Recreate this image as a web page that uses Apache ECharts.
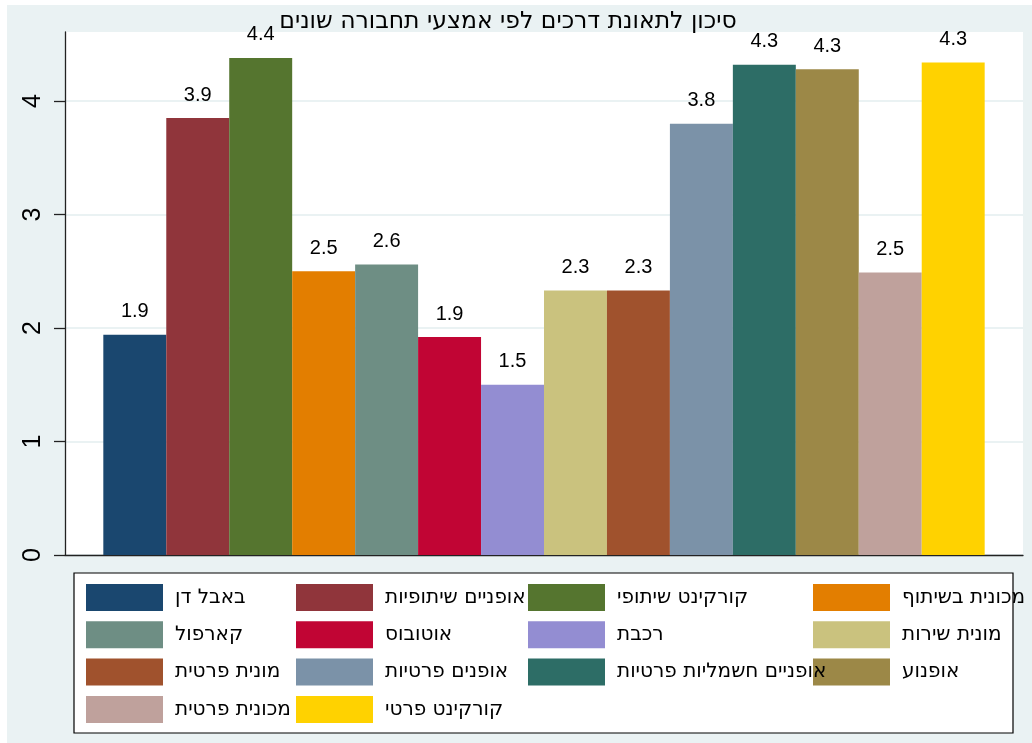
<!DOCTYPE html>
<html>
<head>
<meta charset="utf-8">
<title>סיכון לתאונת דרכים</title>
<script src="https://cdn.jsdelivr.net/npm/echarts@6/dist/echarts.min.js"></script>
<style>
  html, body { margin: 0; padding: 0; background: #ffffff; }
  #chart { width: 1032px; height: 743px; }
</style>
</head>
<body>
<div id="chart"></div>
<script>
// Transport modes, in plotting order
const modes = [
  'באבל דן', 'אופניים שיתופיות', 'קורקינט שיתופי', 'מכונית בשיתוף',
  'קארפול', 'אוטובוס', 'רכבת', 'מונית שירות',
  'מונית פרטית', 'אופנים פרטיות', 'אופניים חשמליות פרטיות', 'אופנוע',
  'מכונית פרטית', 'קורקינט פרטי'
];

// Mean perceived accident risk for each mode
const risk = [1.94, 3.85, 4.38, 2.50, 2.56, 1.92, 1.50, 2.33, 2.33, 3.80, 4.32, 4.28, 2.49, 4.34];

// Bar colours (Stata s2color palette)
const colors = [
  '#1A476F', '#90353B', '#55752F', '#E37E00', '#6E8E84', '#C10534', '#938DD2',
  '#CAC27E', '#A0522D', '#7B92A8', '#2D6D66', '#9C8847', '#BFA19C', '#FFD200'
];

// Y-axis tick values
const yTicks = [0, 1, 2, 3, 4];

const titleText = 'סיכון לתאונת דרכים לפי אמצעי תחבורה שונים';

const chart = echarts.init(document.getElementById('chart'), null, { renderer: 'canvas' });

const series = modes.map((name, i) => ({
  name: name,
  type: 'bar',
  data: [risk[i]],
  barGap: '0%',
  barCategoryGap: '8%',
  itemStyle: { color: colors[i] },
  label: {
    show: true,
    position: 'top',
    distance: 13,
    fontFamily: 'Liberation Sans',
    fontSize: 20,
    color: '#000',
    formatter: p => (Math.round(p.value * 10) / 10).toFixed(1)
  },
  emphasis: { disabled: true }
}));

// Four legend columns, each listing every fourth mode;
// earlier columns sit above later ones so long labels overlap the next swatch
const colLeft = [86, 296, 528, 813];
const legends = colLeft.map((left, c) => ({
  orient: 'vertical',
  left: left,
  top: 584,
  padding: 0,
  z: 10 - c,
  itemWidth: 77,
  itemHeight: 27,
  itemGap: 10.3,
  icon: 'rect',
  selectedMode: false,
  data: modes.filter((_, i) => i % 4 === c),
  textStyle: {
    fontFamily: 'DejaVu Sans',
    fontSize: 20,
    color: '#000',
    padding: [0, 0, 0, 7]
  }
}));

chart.setOption({
  animation: false,
  backgroundColor: '#ffffff',
  title: {
    text: titleText,
    left: 508,
    top: 10,
    padding: 0,
    textAlign: 'center',
    textStyle: {
      fontFamily: 'DejaVu Sans',
      fontSize: 23.5,
      fontWeight: 'normal',
      color: '#000'
    }
  },
  graphic: [
    {
      type: 'rect',
      z: -10,
      silent: true,
      shape: { x: 7, y: 5, width: 1025, height: 738 },
      style: { fill: '#EAF2F3' }
    },
    {
      type: 'rect',
      z: -5,
      silent: true,
      shape: { x: 74, y: 573, width: 939, height: 160 },
      style: { fill: '#ffffff', stroke: '#000000', lineWidth: 1.2 }
    }
  ],
  legend: legends,
  grid: {
    left: 65,
    right: 9,
    top: 32,
    bottom: 188,
    show: true,
    backgroundColor: '#ffffff',
    borderWidth: 0,
    containLabel: false
  },
  xAxis: {
    type: 'category',
    data: [''],
    axisLine: { show: true, lineStyle: { color: '#222', width: 1.3 } },
    axisTick: { show: false },
    axisLabel: { show: false },
    splitLine: { show: false }
  },
  yAxis: {
    type: 'value',
    min: 0,
    max: 4.608,
    interval: 1,
    axisLine: { show: true, lineStyle: { color: '#222', width: 1.3 } },
    axisTick: {
      show: true,
      length: 11,
      customValues: yTicks,
      lineStyle: { color: '#222', width: 1.3 }
    },
    axisLabel: {
      customValues: yTicks,
      rotate: 90,
      margin: 19,
      fontFamily: 'Liberation Sans',
      fontSize: 25,
      color: '#000'
    },
    splitLine: {
      show: true,
      lineStyle: { color: '#EAF2F3', width: 2 }
    }
  },
  series: series
});
</script>
</body>
</html>
